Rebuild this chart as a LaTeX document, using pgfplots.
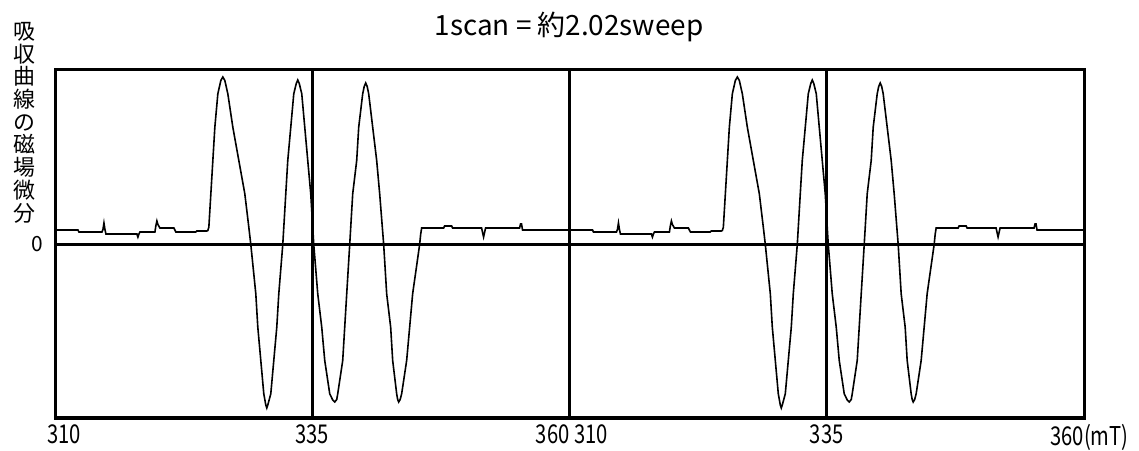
\documentclass[border=0pt]{standalone}
\usepackage{pgfplots}
\pgfplotsset{compat=1.18}
\usepackage{pgfplotstable}
\usepackage{fontspec}
\setmainfont{Noto Sans CJK JP}
\newfontfamily\narrowfont{Noto Sans CJK JP}[FakeStretch=0.78]

\pgfplotstableread{
x y
310.000 14.5
312.233 14.5
312.330 12.5
314.563 12.5
314.660 15
314.757 21.5
314.854 15
314.951 10.5
317.961 10.5
318.058 7.5
318.155 10.5
318.252 12.5
319.709 12.5
319.806 19
319.903 23.5
320.000 20
320.194 16.5
321.553 16.5
321.748 12.5
323.689 12.5
323.786 13.5
324.757 13.5
324.854 14
324.951 17.3
325.146 50.7
325.340 84
325.534 117.3
325.825 150.7
326.117 164
326.311 167.5
326.505 164
326.796 150.7
327.282 117.3
327.864 84
328.447 50.7
328.835 17.3
329.029 0
329.515 -49.3
329.709 -82.7
330.000 -116
330.291 -149.3
330.485 -160.5
330.583 -163.5
330.680 -160.5
330.971 -149.3
331.262 -116
331.553 -82.7
331.748 -49.3
332.136 0
332.427 50.7
332.621 84
332.913 117.3
333.204 150.7
333.447 161
333.592 164.5
333.738 161
333.981 150.7
334.272 117.3
334.563 84
334.854 50.7
335.146 0
335.534 -49.3
335.922 -82.7
336.214 -116
336.699 -149.3
336.990 -155.5
337.184 -157.5
337.379 -155
337.476 -149.3
337.961 -116
338.155 -82.7
338.350 -49.3
338.641 0
338.932 50.7
339.320 84
339.515 117.3
339.903 150.7
340.049 158
340.194 161.5
340.340 158
340.485 150.7
340.874 117.3
341.262 84
341.553 50.7
341.942 0
342.233 -49.3
342.621 -82.7
342.816 -116
343.204 -149.3
343.301 -155
343.398 -157.5
343.544 -155
343.689 -149.3
344.175 -116
344.466 -82.7
344.757 -49.3
345.437 0
345.534 10
345.631 16.5
347.767 16.5
347.864 18.5
348.544 18.5
348.641 16.5
351.456 16.5
351.650 7.5
351.845 16.5
355.146 16.5
355.243 20.5
355.340 20.5
355.437 14.5
360.000 14.5
}\sig

\begin{document}
\begin{tikzpicture}
\useasboundingbox (0,0) rectangle (1139bp,451bp);
\pgfplotsset{
  panel/.style={
    at={(#1,33bp)}, anchor=south west,
    scale only axis, width=514.5bp, height=348bp,
    xmin=310, xmax=360, ymin=-173.5, ymax=174.5,
    axis line style={line width=3bp},
    xtick={310,335,360},
    major tick length=0pt,
    xticklabel style={font=\narrowfont\fontsize{26}{26}\selectfont, inner sep=0pt, anchor=north, yshift=-6bp},
    yticklabel style={font=\fontsize{21}{21}\selectfont, inner sep=0pt, anchor=east, xshift=-12bp},
  }
}
\begin{axis}[panel=55bp, ytick={0}, yticklabels={0},
  xticklabels={\makebox[0pt][l]{\hspace*{-8bp}310}, 335, \makebox[0pt][r]{360}}]
  \addplot[black, line width=3bp] coordinates {(310,0) (360,0)};
  \addplot[black, line width=3bp] coordinates {(335,-173.5) (335,174.5)};
  \addplot[black, line width=1.6bp] table[x=x,y=y] {\sig};
\end{axis}
\begin{axis}[panel=569.5bp, ytick=\empty,
  xticklabels={\makebox[0pt][l]{\hspace*{5bp}310}, 335, \makebox[0pt][r]{360}\makebox[0pt][l]{(mT)}}]
  \addplot[black, line width=3bp] coordinates {(310,0) (360,0)};
  \addplot[black, line width=3bp] coordinates {(335,-173.5) (335,174.5)};
  \addplot[black, line width=1.6bp] table[x=x,y=y] {\sig};
\end{axis}
\node[font=\fontsize{28}{28}\selectfont, inner sep=0pt] at (569bp,424bp) {1scan = 約2.02sweep};
\node[font=\fontsize{22}{22.8}\selectfont, align=center, anchor=north, inner sep=0pt] at (24bp,429bp) {吸\\収\\曲\\線\\の\\磁\\場\\微\\分};
\end{tikzpicture}
\end{document}
